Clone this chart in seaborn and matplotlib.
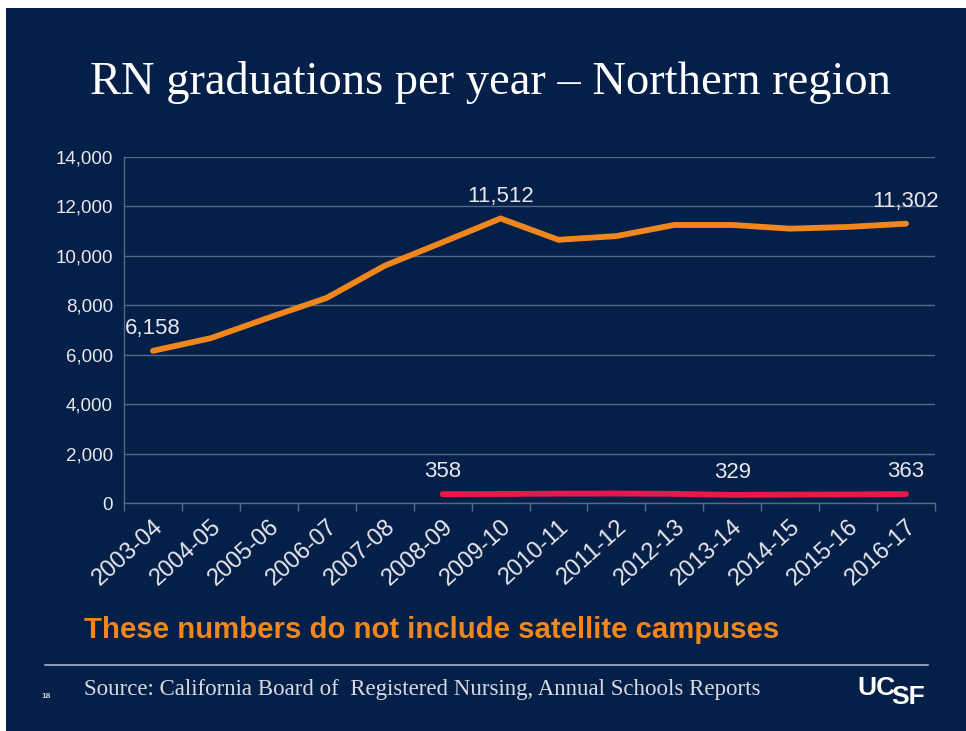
import numpy as np
import pandas as pd
import matplotlib
matplotlib.use("Agg")
import matplotlib.pyplot as plt
import seaborn as sns
from matplotlib.patches import Rectangle
from matplotlib.ticker import FuncFormatter, FixedLocator

years = ["2003-04", "2004-05", "2005-06", "2006-07", "2007-08", "2008-09", "2009-10",
         "2010-11", "2011-12", "2012-13", "2013-14", "2014-15", "2015-16", "2016-17"]
northern = [6158, 6670, 7500, 8300, 9600, 10550, 11512,
            10650, 10800, 11250, 11250, 11100, 11170, 11302]
other_years = ["2008-09", "2009-10", "2010-11", "2011-12", "2012-13",
               "2013-14", "2014-15", "2015-16", "2016-17"]
other = [358, 365, 378, 382, 370, 329, 340, 348, 363]

# which points get a number on the chart
northern_labels = ["2003-04", "2009-10", "2016-17"]
other_labels = ["2008-09", "2013-14", "2016-17"]

NAVY = "#041f48"
ORANGE = "#f0861e"
PINK = "#e8184a"
GRID = "#56688a"
TXT = "#e8e8ec"

sns.set_style("dark")
plt.rcParams["font.family"] = ["Liberation Sans", "DejaVu Sans"]

df1 = pd.DataFrame({"pos": [years.index(y) for y in years], "value": northern})
df2 = pd.DataFrame({"pos": [years.index(y) for y in other_years], "value": other})

fig = plt.figure(figsize=(9.66, 7.31), dpi=100, facecolor="white")
fig.patches.append(Rectangle((6 / 966, 0), 1, 1 - 8 / 731, transform=fig.transFigure,
                             facecolor=NAVY, edgecolor="none", zorder=-10))

ax = fig.add_axes([124 / 966, 1 - 503 / 731, (935 - 124) / 966, (503 - 157) / 731])
ax.set_facecolor(NAVY)

sns.lineplot(data=df1, x="pos", y="value", color=ORANGE, linewidth=4.2, ax=ax,
             solid_capstyle="round", solid_joinstyle="miter")
sns.lineplot(data=df2, x="pos", y="value", color=PINK, linewidth=4.2, ax=ax,
             solid_capstyle="round")

for y in northern_labels:
    i = years.index(y)
    ax.annotate(f"{northern[i]:,}", (i, northern[i]), xytext=(0, 16),
                textcoords="offset points", ha="center", va="center",
                color=TXT, fontsize=16)
for y in other_labels:
    i = other_years.index(y)
    ax.annotate(f"{other[i]:,}", (years.index(y), other[i]), xytext=(0, 16),
                textcoords="offset points", ha="center", va="center",
                color=TXT, fontsize=16)

ax.set_xlim(-0.5, len(years) - 0.5)
ax.set_ylim(0, 14000)
ax.set_yticks(range(0, 14001, 2000))
ax.yaxis.set_major_formatter(FuncFormatter(lambda v, p: f"{int(v):,}"))
ax.grid(axis="y", color=GRID, linewidth=1)
ax.grid(axis="x", visible=False)

ax.xaxis.set_major_locator(FixedLocator(np.arange(-0.5, len(years), 1)))
ax.xaxis.set_minor_locator(FixedLocator(np.arange(len(years))))
ax.set_xticklabels([], minor=False)
ax.set_xticklabels(years, minor=True, rotation=42, ha="right", rotation_mode="anchor",
                   color=TXT, fontsize=17)
ax.tick_params(axis="x", which="major", length=6, color=GRID, width=1, direction="out",
               bottom=True)
ax.tick_params(axis="x", which="minor", length=0, pad=9)
ax.tick_params(axis="y", length=0, labelcolor=TXT, labelsize=13.5, pad=8)
ax.set_xlabel("")
ax.set_ylabel("")

for s in ["top", "right"]:
    ax.spines[s].set_visible(False)
for s in ["left", "bottom"]:
    ax.spines[s].set_visible(True)
    ax.spines[s].set_color(GRID)
    ax.spines[s].set_linewidth(1)

fig.text(490 / 966, 1 - 82 / 731, "RN graduations per year \u2013 Northern region",
         ha="center", va="center", color="white", fontsize=33.5,
         family=["Liberation Serif", "DejaVu Serif"])
fig.text(84 / 966, 1 - 630 / 731, "These numbers do not include satellite campuses",
         ha="left", va="center", color=ORANGE, fontsize=21.2, fontweight="bold")
fig.add_artist(plt.Line2D([45 / 966, 928 / 966], [1 - 665 / 731, 1 - 665 / 731],
                          transform=fig.transFigure, color="#8a98b8", linewidth=1.5))
fig.text(84 / 966, 1 - 689 / 731,
         "Source: California Board of  Registered Nursing, Annual Schools Reports",
         ha="left", va="center", color="#d8dae2", fontsize=16.5,
         family=["Liberation Serif", "DejaVu Serif"])
fig.text(46 / 966, 1 - 697 / 731, "18", ha="center", va="center", color="#c8ccd8",
         fontsize=6, fontweight="bold")
fig.text(857 / 966, 1 - 688 / 731, "UC", ha="left", va="center", color="white",
         fontsize=19, fontweight="bold")
fig.text(891 / 966, 1 - 697 / 731, "SF", ha="left", va="center", color="white",
         fontsize=19, fontweight="bold")

fig.savefig("out.png", dpi=100, facecolor="white")
